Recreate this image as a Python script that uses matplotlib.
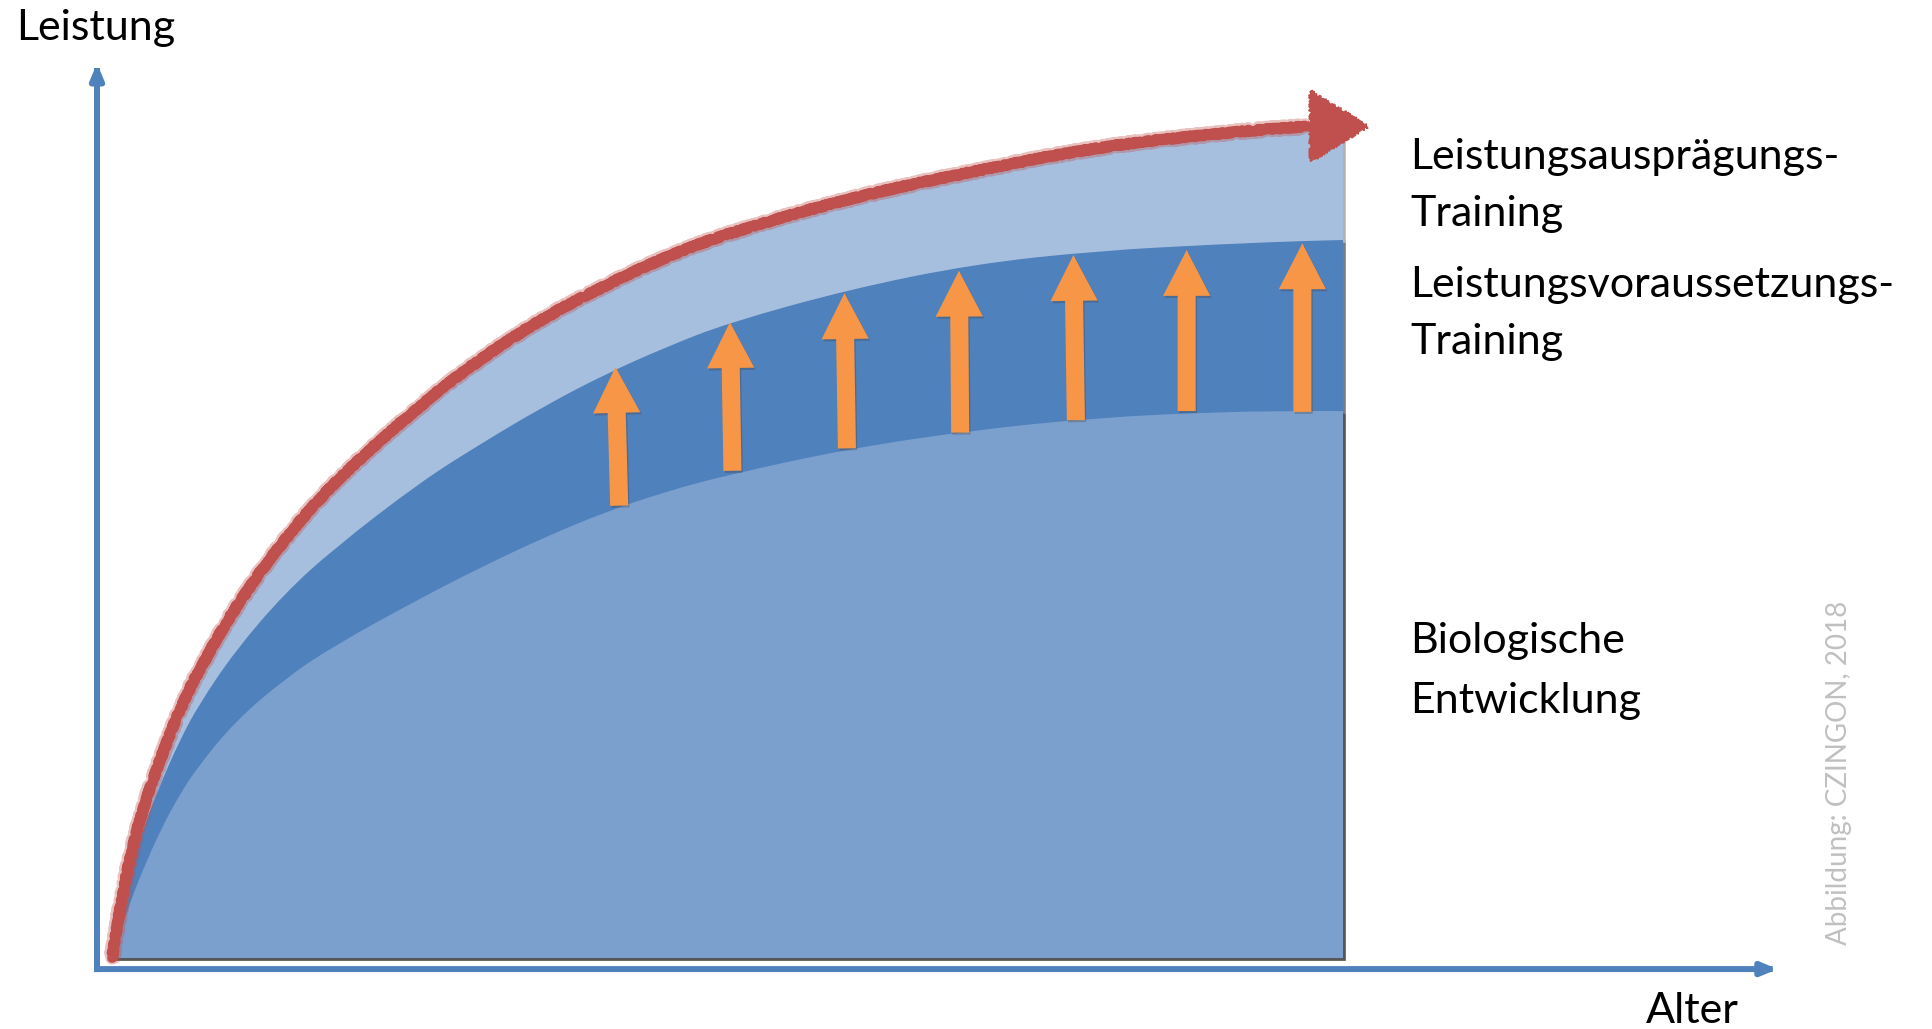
import matplotlib
matplotlib.use("Agg")
import matplotlib.pyplot as plt
import matplotlib.patheffects as pe
from matplotlib.path import Path
from matplotlib.patches import PathPatch

plt.rcParams['font.family'] = ['Lato', 'DejaVu Sans']

# Alter (x) shared by the three stacked layers, Leistung (y) = upper edge of each layer
alter = [0, 0.05, 0.15, 0.25, 0.4, 0.55, 0.7, 1.0, 1.4, 1.8, 2.5, 3.0, 3.5,
         4.0, 4.5, 5.0, 6.0, 7.0, 8.0, 9.0, 9.7, 10.0]
biologisch = [0, 0.24, 0.68, 1.06, 1.56, 1.97, 2.31, 2.85, 3.36, 3.76, 4.33, 4.71,
              5.06, 5.37, 5.62, 5.82, 6.14, 6.36, 6.51, 6.58, 6.59, 6.59]
voraussetzung = [0, 0.40, 1.05, 1.55, 2.12, 2.62, 3.04, 3.70, 4.39, 4.93, 5.73, 6.20,
                 6.64, 7.03, 7.36, 7.65, 8.06, 8.36, 8.52, 8.60, 8.64, 8.65]
auspraegung = [0, 0.48, 1.25, 1.80, 2.43, 3.00, 3.45, 4.23, 5.05, 5.73, 6.66, 7.23,
               7.71, 8.10, 8.45, 8.73, 9.16, 9.48, 9.77, 9.94, 10.02, 10.05]
rot_spitze = (10.2, 10.02)

# orange arrows inside the training band (foot on biological layer, tip at the band's top)
pfeil_x_fuss = [4.12, 5.04, 5.97, 6.89, 7.83, 8.73, 9.67]
pfeil_x_spitze = [4.09, 5.02, 5.95, 6.88, 7.81, 8.73, 9.67]
pfeil_fuss = [5.45, 5.87, 6.14, 6.33, 6.48, 6.59, 6.58]
pfeil_spitze = [7.12, 7.66, 8.01, 8.28, 8.47, 8.53, 8.61]

labels = ["Leistungsausprägungs-", "Training", "Leistungsvoraussetzungs-", "Training",
          "Biologische", "Entwicklung"]
label_y = [9.506, 8.819, 7.964, 7.277, 3.675, 2.952]

blau = '#4F81BD'
hellblau = '#A7BFDE'
mittelblau = '#7BA0CD'
rot = '#C0504D'
orange = '#F79646'


def glatter_pfad(xs, ys, geschlossen=False):
    """Quadratic curve through the midpoints of the given points (optionally closed to y=0)."""
    verts = [(xs[0], ys[0])]
    codes = [Path.MOVETO]
    for i in range(1, len(xs) - 1):
        verts += [(xs[i], ys[i]), ((xs[i] + xs[i + 1]) / 2, (ys[i] + ys[i + 1]) / 2)]
        codes += [Path.CURVE3, Path.CURVE3]
    verts.append((xs[-1], ys[-1]))
    codes.append(Path.LINETO)
    if geschlossen:
        verts += [(xs[-1], 0), (xs[0], 0), (xs[0], ys[0])]
        codes += [Path.LINETO, Path.LINETO, Path.CLOSEPOLY]
    return Path(verts, codes)


fig = plt.figure(figsize=(19.33, 10.29), dpi=100)
ax = fig.add_axes([0, 0, 1, 1])
ax.set_xlim(-0.910, 14.793)
ax.set_ylim(-0.855, 11.542)
ax.axis('off')

schatten = [pe.SimplePatchShadow(offset=(2, -2), shadow_rgbFace='k', alpha=0.3), pe.Normal()]

# stacked layers, drawn back to front
for werte, farbe, z in [(auspraegung, hellblau, 1), (voraussetzung, blau, 2),
                        (biologisch, mittelblau, 3)]:
    ax.add_patch(PathPatch(glatter_pfad(alter, werte, geschlossen=True), fc=farbe,
                           ec='none', zorder=z, path_effects=schatten))

for xf, xs, yf, ys in zip(pfeil_x_fuss, pfeil_x_spitze, pfeil_fuss, pfeil_spitze):
    ax.annotate('', xy=(xs, ys), xytext=(xf, yf), zorder=4,
                arrowprops=dict(arrowstyle='simple,head_length=3.3,head_width=3.4,tail_width=1.3',
                                mutation_scale=10, fc=orange, ec='none', shrinkA=0, shrinkB=0,
                                path_effects=[pe.SimplePatchShadow(offset=(1, -1.5), alpha=0.25),
                                              pe.Normal()]))

# red crayon-like trend arrow along the top layer: soft outer stroke plus rough core
rot_pfad = glatter_pfad(alter[:-1], auspraegung[:-1])
for breite, alpha, rauh in [(9.5, 0.35, 2.2), (7.0, 1.0, 1.4)]:
    linie = PathPatch(rot_pfad, fill=False, ec=rot, lw=breite, alpha=alpha, zorder=5,
                      capstyle='round', joinstyle='round')
    linie.set_sketch_params(scale=rauh, length=2.5, randomness=2)
    ax.add_patch(linie)
kopf = ax.annotate('', xy=rot_spitze, xytext=(alter[-2] - 0.1, auspraegung[-2]), zorder=5,
                   arrowprops=dict(arrowstyle='simple,head_length=4.1,head_width=5.0,tail_width=0.4',
                                   mutation_scale=10, fc=rot, ec=rot, lw=1.5,
                                   shrinkA=0, shrinkB=0))
kopf.arrow_patch.set_sketch_params(scale=1.6, length=2.5, randomness=2)

# axes with arrow heads
ecke = (-0.122, -0.133)
achse = dict(arrowstyle='-|>,head_length=0.6,head_width=0.25', mutation_scale=15, lw=4.3,
             color=blau, shrinkA=0, shrinkB=0, capstyle='projecting',
             path_effects=[pe.SimplePatchShadow(offset=(1.5, -1.5), alpha=0.25), pe.Normal()])
ax.annotate('', xy=(ecke[0], 10.78), xytext=ecke, arrowprops=achse, zorder=6)
ax.annotate('', xy=(13.53, ecke[1]), xytext=ecke, arrowprops=achse, zorder=6)

ax.text(-0.78, 11.06, "Leistung", fontsize=31, va='baseline', ha='left')
ax.text(12.46, -0.78, "Alter", fontsize=31, va='baseline', ha='left')
for text, y in zip(labels, label_y):
    ax.text(10.544, y, text, fontsize=31, va='baseline', ha='left')

ax.text(14.03, 2.235, "Abbildung: CZINGON, 2018", rotation=90, ha='center', va='center',
        color='#C0C0C0', fontsize=20)

fig.savefig('out.png', dpi=100)
